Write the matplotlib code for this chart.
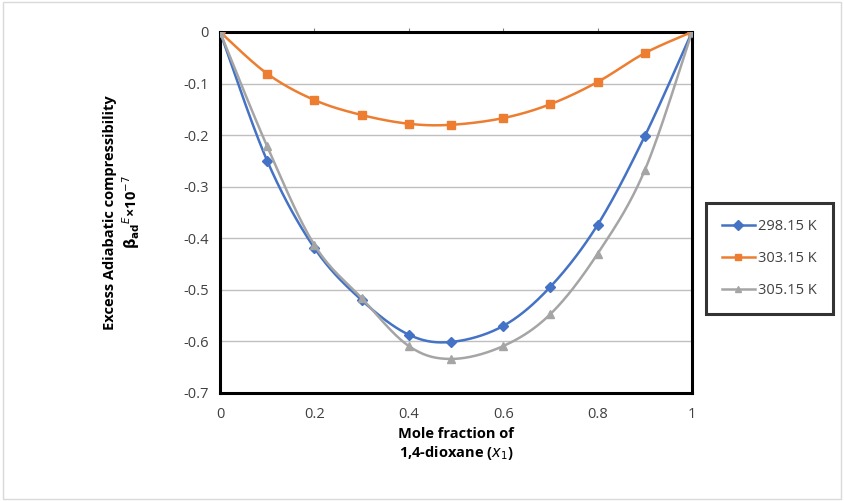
import matplotlib
matplotlib.use("Agg")
import matplotlib.pyplot as plt
import numpy as np

# mole fraction of 1,4-dioxane
x1 = [0.0, 0.1, 0.2, 0.3, 0.4, 0.49, 0.6, 0.7, 0.8, 0.9, 1.0]

# excess adiabatic compressibility (x 1e-7)
beta_298 = [0.0, -0.250, -0.419, -0.520, -0.587, -0.601, -0.570, -0.494, -0.374, -0.202, 0.0]
beta_303 = [0.0, -0.081, -0.132, -0.161, -0.178, -0.180, -0.167, -0.140, -0.097, -0.041, 0.0]
beta_305 = [0.0, -0.222, -0.413, -0.516, -0.609, -0.634, -0.609, -0.547, -0.430, -0.268, 0.0]

labels = ["298.15 K", "303.15 K", "305.15 K"]
colors = ["#4472C4", "#ED7D31", "#A5A5A5"]
markers = ["D", "s", "^"]


def smooth(xs, ys, n=30):
    # Excel-like smoothed line (Catmull-Rom bezier)
    p = np.column_stack([xs, ys])
    out = []
    for i in range(len(p) - 1):
        p0 = p[i - 1] if i > 0 else p[i]
        p1 = p[i]
        p2 = p[i + 1]
        p3 = p[i + 2] if i + 2 < len(p) else p[i + 1]
        c1 = p1 + (p2 - p0) / 6.0
        c2 = p2 - (p3 - p1) / 6.0
        t = np.linspace(0, 1, n)[:, None]
        seg = (1 - t) ** 3 * p1 + 3 * (1 - t) ** 2 * t * c1 + 3 * (1 - t) * t ** 2 * c2 + t ** 3 * p2
        out.append(seg if i == 0 else seg[1:])
    out = np.vstack(out)
    return out[:, 0], out[:, 1]


plt.rcParams['font.family'] = ['Open Sans', 'DejaVu Sans']

fig = plt.figure(figsize=(8.44, 5.01), dpi=100)
fig.patches.append(plt.Rectangle((0.003, 0.004), 0.994, 0.992, transform=fig.transFigure,
                                 fill=False, edgecolor='#D9D9D9', lw=1))
ax = fig.add_axes([0.2607, 0.2156, 0.5592, 0.7206])

series = [beta_298, beta_303, beta_305]
order = [2, 0, 1]
handles = []
for k in order:
    sx, sy = smooth(x1, series[k])
    ax.plot(sx, sy, '-', color=colors[k], lw=1.8, zorder=3 + k)
    ms = 5 if markers[k] == 'D' else 6
    ax.plot(x1, series[k], linestyle='none', marker=markers[k], color=colors[k], ms=ms, zorder=3 + k)
for k in range(3):
    h, = ax.plot([], [], '-', marker=markers[k], color=colors[k], lw=1.8, ms=5)
    handles.append(h)

ax.set_xlim(0, 1)
ax.set_ylim(-0.7, 0)
ax.set_xticks([0, 0.2, 0.4, 0.6, 0.8, 1])
ax.set_xticklabels(['0', '0.2', '0.4', '0.6', '0.8', '1'])
ax.set_yticks(np.arange(-0.7, 0.01, 0.1))
ax.set_yticklabels(['-0.7', '-0.6', '-0.5', '-0.4', '-0.3', '-0.2', '-0.1', '0'])
ax.yaxis.grid(True, color='#BFBFBF', lw=1)
ax.set_axisbelow(True)
ax.tick_params(axis='both', length=0, labelsize=10.5, colors='#404040', pad=8)
ax.tick_params(axis='x', pad=10)
for s in ax.spines.values():
    s.set_linewidth(2.2)
    s.set_color('black')

# small tick marks along the top (category axis crosses at 0)
sec = ax.secondary_xaxis('top')
sec.set_xticks([0.2, 0.4, 0.6, 0.8])
sec.tick_params(length=3, width=0.8, color='#808080', labeltop=False)
sec.spines['top'].set_visible(False)

ax.set_xlabel('Mole fraction of\n1,4-dioxane ($x_1$)', fontsize=10.5, fontweight='bold', labelpad=4)
ax.set_ylabel('Excess Adiabatic compressibility\n$\\mathbf{\\beta_{ad}}^{E}$×10$^{-7}$',
              fontsize=10.5, fontweight='bold', labelpad=30)

leg = fig.legend(handles, labels, loc='upper left', bbox_to_anchor=(0.836, 0.594),
                 fontsize=10.5, frameon=True, fancybox=False, handlelength=2.3,
                 borderpad=1.1, labelspacing=1.15, handletextpad=0.2, borderaxespad=0)
leg.get_frame().set_edgecolor('black')
leg.get_frame().set_linewidth(2.2)
for t in leg.get_texts():
    t.set_color('#404040')

fig.savefig('out.png', dpi=100)
